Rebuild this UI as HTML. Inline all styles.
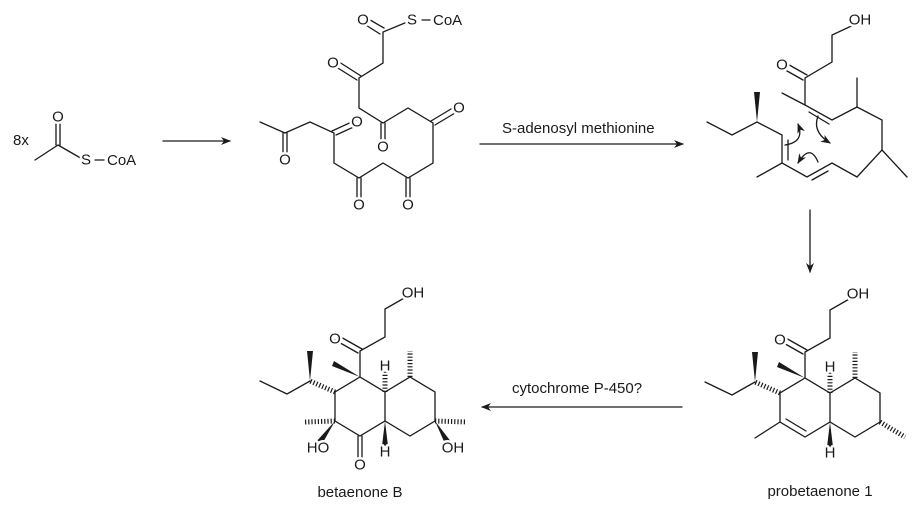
<!DOCTYPE html>
<html><head><meta charset="utf-8"><style>
html,body{margin:0;padding:0;background:#fff;width:918px;height:512px;overflow:hidden}
svg{display:block}
line,polyline,path.b{stroke:#1a1a1a;stroke-width:1.3;fill:none;stroke-linecap:round}
.h{stroke:#1a1a1a;stroke-width:5;stroke-dasharray:1.2 2;stroke-linecap:butt}
.w{fill:#1a1a1a;stroke:none}
text{font-family:"Liberation Sans",sans-serif;font-size:15px;fill:#1a1a1a}
.a{text-anchor:middle;dominant-baseline:central;stroke:#fff;stroke-width:5;paint-order:stroke;stroke-linejoin:round}
</style></head><body>
<svg width="918" height="512" viewBox="0 0 918 512">
<defs><marker id="ar" markerWidth="10" markerHeight="8" refX="9" refY="4" orient="auto" markerUnits="userSpaceOnUse"><path d="M0,0 L10,4 L0,8 L3,4Z" fill="#1a1a1a"/></marker></defs>

<text x="13" y="145">8x</text>
<line x1="35" y1="160" x2="58" y2="145"/>
<line x1="56" y1="145" x2="56" y2="117"/><line x1="60" y1="145" x2="60" y2="117"/>
<line x1="58" y1="145" x2="84" y2="160"/>
<line x1="95" y1="160" x2="104" y2="160"/>
<text class="a" x="58" y="117">O</text>
<text class="a" x="86" y="160">S</text>
<text x="107" y="165">CoA</text>

<line x1="163" y1="141" x2="230" y2="141" marker-end="url(#ar)"/>

<polyline points="412,20 383,32 383,63 359,78 359,108 383,123 408,108 433,123 433,163 408,178 383,163 359,178 334,163 334,133 310,122 285,133 260,122"/>
<line x1="380" y1="34" x2="361" y2="22"/><line x1="384" y1="28" x2="365" y2="17"/>
<line x1="357" y1="80" x2="333" y2="65"/><line x1="361" y1="76" x2="336" y2="60"/>
<line x1="381" y1="123" x2="381" y2="147"/><line x1="385" y1="123" x2="385" y2="147"/>
<line x1="431" y1="121" x2="456" y2="106"/><line x1="435" y1="125" x2="460" y2="110"/>
<line x1="406" y1="178" x2="406" y2="205"/><line x1="410" y1="178" x2="410" y2="205"/>
<line x1="357" y1="178" x2="357" y2="205"/><line x1="361" y1="178" x2="361" y2="205"/>
<line x1="332" y1="131" x2="356" y2="120"/><line x1="336" y1="135" x2="358" y2="125"/>
<line x1="283" y1="133" x2="283" y2="160"/><line x1="287" y1="133" x2="287" y2="160"/>
<line x1="422" y1="20" x2="430" y2="20"/>
<text class="a" x="363" y="20">O</text>
<text class="a" x="412" y="20">S</text>
<text x="433" y="25">CoA</text>
<text class="a" x="333" y="63">O</text>
<text class="a" x="383" y="147">O</text>
<text class="a" x="459" y="108">O</text>
<text class="a" x="408" y="205">O</text>
<text class="a" x="359" y="205">O</text>
<text class="a" x="357" y="122">O</text>
<text class="a" x="285" y="160">O</text>

<text x="502" y="133">S-adenosyl methionine</text>
<line x1="480" y1="144" x2="683" y2="144" marker-end="url(#ar)"/>

<polyline points="860,22 832,35 832,62 805,78 805,105 832,120 857,107 882,120 882,150 857,177 832,163 807,177 782,163 782,135 757,122 732,135 707,122"/>
<line x1="805" y1="105" x2="782" y2="93"/>
<line x1="857" y1="107" x2="857" y2="78"/>
<line x1="882" y1="150" x2="907" y2="177"/>
<line x1="782" y1="163" x2="757" y2="177"/>
<line x1="803" y1="80" x2="780" y2="67"/><line x1="807" y1="75" x2="784" y2="62"/>
<line x1="809" y1="112" x2="829" y2="124"/>
<line x1="788" y1="140" x2="788" y2="160"/>
<line x1="812" y1="180" x2="828" y2="171"/>
<polygon class="w" points="757,122 754,92 760,92"/>
<path class="b" d="M785,145 Q805,142 798,124" marker-end="url(#ar)"/>
<path class="b" d="M818,116 Q812,132 830,143" marker-end="url(#ar)"/>
<path class="b" d="M818,162 Q810,143 798,163" marker-end="url(#ar)"/>
<text class="a" x="860" y="20">OH</text>
<text class="a" x="782" y="65">O</text>

<line x1="810" y1="210" x2="810" y2="272" marker-end="url(#ar)"/>

<g>
<polyline points="858,294 830,310 830,338 805,352 805,378 830,393 855,378 880,393 880,422 855,437 830,422 805,437 780,422 780,393 805,378"/>
<line x1="830" y1="393" x2="830" y2="422"/>
<line x1="803" y1="354" x2="780" y2="341"/><line x1="807" y1="350" x2="784" y2="337"/>
<line x1="806" y1="431" x2="786" y2="419"/>
<line x1="780" y1="422" x2="755" y2="438"/>
<polyline points="755,382 732,395 705,382"/>
<polygon class="w" points="805,378 779,362 777,367"/>
<polygon class="w" points="755,382 752,352 758,352"/>
<polygon class="w" points="830,422 827,447 833,447"/>
<line class="h" x1="780" y1="393" x2="755" y2="382"/>
<line class="h" x1="830" y1="393" x2="830" y2="372"/>
<line class="h" x1="855" y1="378" x2="855" y2="352"/>
<line class="h" x1="880" y1="422" x2="905" y2="437"/>
<text class="a" x="858" y="294">OH</text>
<text class="a" x="780" y="340">O</text>
<text class="a" x="830" y="367">H</text>
<text class="a" x="830" y="453">H</text>
<text x="820" y="496" text-anchor="middle">probetaenone 1</text>
</g>

<text x="512" y="393">cytochrome P-450?</text>
<line x1="682" y1="407" x2="482" y2="407" marker-end="url(#ar)"/>

<g transform="translate(-445,-1)">
<polyline points="858,294 830,310 830,338 805,352 805,378 830,393 855,378 880,393 880,422 855,437 830,422 805,437 780,422 780,393 805,378"/>
<line x1="830" y1="393" x2="830" y2="422"/>
<line x1="803" y1="354" x2="780" y2="341"/><line x1="807" y1="350" x2="784" y2="337"/>
<line x1="803" y1="437" x2="803" y2="464"/><line x1="807" y1="437" x2="807" y2="464"/>
<polyline points="755,382 732,395 705,382"/>
<polygon class="w" points="805,378 779,362 777,367"/>
<polygon class="w" points="755,382 752,352 758,352"/>
<polygon class="w" points="830,422 827,447 833,447"/>
<polygon class="w" points="780,422 760,444 766,447"/>
<polygon class="w" points="880,422 891,447 897,444"/>
<line class="h" x1="780" y1="393" x2="755" y2="382"/>
<line class="h" x1="830" y1="393" x2="830" y2="372"/>
<line class="h" x1="855" y1="378" x2="855" y2="352"/>
<line class="h" x1="780" y1="422" x2="750" y2="423"/>
<line class="h" x1="880" y1="422" x2="912" y2="423"/>
<text class="a" x="858" y="294">OH</text>
<text class="a" x="780" y="340">O</text>
<text class="a" x="830" y="367">H</text>
<text class="a" x="830" y="453">H</text>
<text class="a" x="805" y="466">O</text>
<text class="a" x="763" y="449">HO</text>
<text class="a" x="898" y="449">OH</text>
</g>
<text x="360" y="497" text-anchor="middle">betaenone B</text>
</svg>
</body></html>
